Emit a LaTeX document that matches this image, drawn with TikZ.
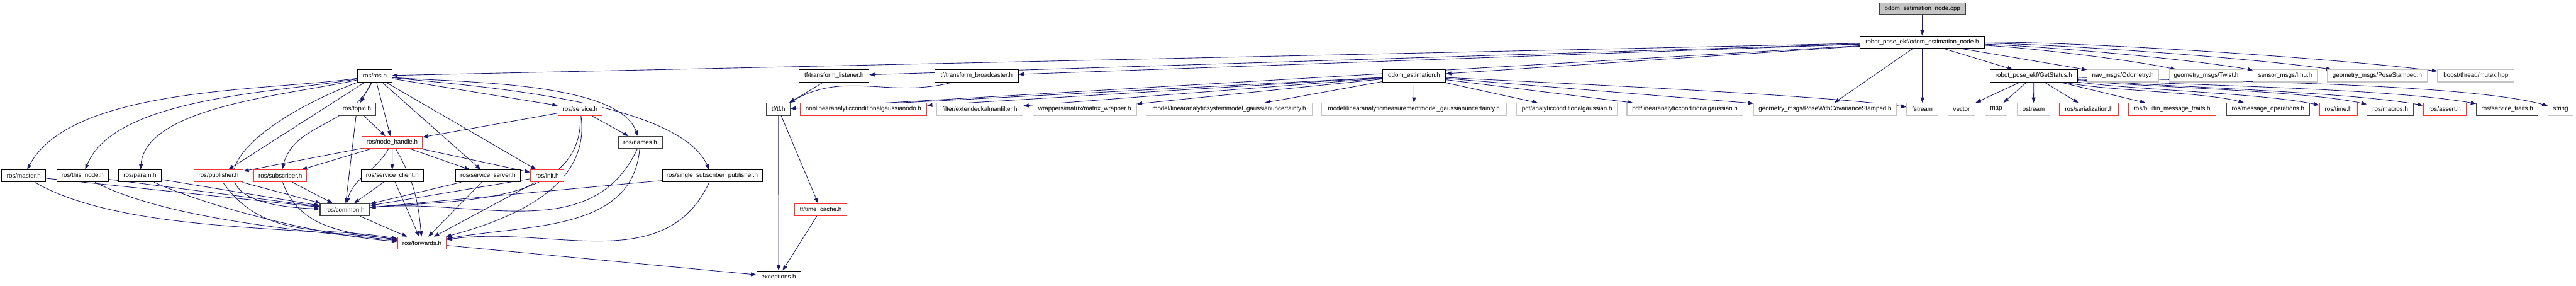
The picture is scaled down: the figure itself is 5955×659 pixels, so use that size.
\documentclass[tikz,border=0pt]{standalone}
\usepackage{fontspec}
\setmainfont{Liberation Sans}
\usepackage{xcolor}
\usepackage{tikz}
\usetikzlibrary{arrows.meta, backgrounds}
\definecolor{edgeblue}{RGB}{25,25,112}
\definecolor{nodered}{RGB}{250,50,50}
\definecolor{nodegray}{RGB}{196,196,196}

\begin{document}
\begin{tikzpicture}[
    x=0.125pt, y=-0.125pt,
    base/.style={rectangle, fill=white, minimum height=3.5pt, inner sep=0pt, font=\fontsize{1.78}{2.1}\selectfont},
    wd/.style={minimum width=#1*0.125pt},
    hnode/.style={base, draw=black, line width=0.15pt},
    dnode/.style={base, draw=black!75, line width=0.23pt},
    rnode/.style={base, draw=nodered, line width=0.2pt},
    gnode/.style={base, draw=nodegray, line width=0.2pt},
    rootnode/.style={base, draw=black!75, fill=nodegray, line width=0.2pt},
    arr/.style={-{Triangle[length=1.55pt,width=1.1pt]}, draw=edgeblue, line width=0.16pt}
]
\useasboundingbox (0,0) rectangle (5955,659);

\node[rootnode, wd=200] (cpp) at (4444,20) {odom\_estimation\_node.cpp};
\node[hnode, wd=287] (nodeh) at (4443.5,97) {robot\_pose\_ekf/odom\_estimation\_node.h};

\node[hnode, wd=79] (ros) at (866.5,175) {ros/ros.h};
\node[hnode, wd=162] (tflis) at (1928,175) {tf/transform\_listener.h};
\node[hnode, wd=193] (tfbc) at (2257.5,175) {tf/transform\_broadcaster.h};
\node[hnode, wd=146] (oest) at (3269,175) {odom\_estimation.h};
\node[hnode, wd=201] (gst) at (4701.5,175) {robot\_pose\_ekf/GetStatus.h};
\node[gnode, wd=165] (odo) at (4907.5,175) {nav\_msgs/Odometry.h};
\node[gnode, wd=170] (twist) at (5100,175) {geometry\_msgs/Twist.h};
\node[gnode, wd=147] (imu) at (5282.5,175) {sensor\_msgs/Imu.h};
\node[gnode, wd=231] (pst) at (5495.5,175) {geometry\_msgs/PoseStamped.h};
\node[gnode, wd=177] (mutex) at (5723.5,175) {boost/thread/mutex.hpp};

\node[dnode, wd=88] (topic) at (825,252) {ros/topic.h};
\node[rnode, wd=102] (service) at (1341,252) {ros/service.h};
\node[dnode, wd=55] (tf) at (1799.5,252) {tf/tf.h};
\node[rnode, wd=292] (nonlin) at (1996,252) {nonlinearanalyticconditionalgaussianodo.h};
\node[gnode, wd=200] (ekf) at (2265,252) {filter/extendedkalmanfilter.h};
\node[gnode, wd=239] (matw) at (2507.5,252) {wrappers/matrix/matrix\_wrapper.h};
\node[gnode, wd=383] (sysm) at (2841.5,252) {model/linearanalyticsystemmodel\_gaussianuncertainty.h};
\node[gnode, wd=427] (measm) at (3268.5,252) {model/linearanalyticmeasurementmodel\_gaussianuncertainty.h};
\node[gnode, wd=233] (acg) at (3622.5,252) {pdf/analyticconditionalgaussian.h};
\node[gnode, wd=268] (lacg) at (3895,252) {pdf/linearanalyticconditionalgaussian.h};
\node[gnode, wd=330] (pwcs) at (4219,252) {geometry\_msgs/PoseWithCovarianceStamped.h};
\node[gnode, wd=72] (fstream) at (4444,252) {fstream};
\node[gnode, wd=63] (vector) at (4534.5,252) {vector};
\node[gnode, wd=51] (map) at (4614.5,252) {map};
\node[gnode, wd=76] (ostream) at (4701,252) {ostream};
\node[rnode, wd=136] (ser) at (4829,252) {ros/serialization.h};
\node[rnode, wd=202] (bmt) at (5021,252) {ros/builtin\_message\_traits.h};
\node[dnode, wd=192] (mops) at (5243,252) {ros/message\_operations.h};
\node[rnode, wd=87] (time) at (5405.5,252) {ros/time.h};
\node[dnode, wd=107] (macros) at (5525.5,252) {ros/macros.h};
\node[rnode, wd=99] (assert) at (5651.5,252) {ros/assert.h};
\node[dnode, wd=142] (svtr) at (5796,252) {ros/service\_traits.h};
\node[gnode, wd=59] (string) at (5919.5,252) {string};

\node[rnode, wd=139] (nh) at (906.5,329) {ros/node\_handle.h};
\node[dnode, wd=102] (names) at (1480,329) {ros/names.h};

\node[hnode, wd=102] (master) at (55,406) {ros/master.h};
\node[hnode, wd=120] (thisnode) at (191,406) {ros/this\_node.h};
\node[hnode, wd=99] (param) at (323.5,406) {ros/param.h};
\node[rnode, wd=114] (pub) at (505,406) {ros/publisher.h};
\node[rnode, wd=122] (sub) at (648,406) {ros/subscriber.h};
\node[hnode, wd=144] (sclient) at (907,406) {ros/service\_client.h};
\node[hnode, wd=149] (sserver) at (1128,406) {ros/service\_server.h};
\node[rnode, wd=78] (init) at (1265,406) {ros/init.h};
\node[hnode, wd=231] (ssp) at (1646.5,406) {ros/single\_subscriber\_publisher.h};

\node[dnode, wd=115] (common) at (797.5,484) {ros/common.h};
\node[rnode, wd=121] (tcache) at (1897.5,484) {tf/time\_cache.h};
\node[rnode, wd=113] (fwd) at (975.5,561) {ros/forwards.h};
\node[hnode, wd=102] (exc) at (1800,639) {exceptions.h};

\begin{scope}[on background layer]
\draw[arr] (cpp) -- (nodeh);

\draw[arr] (nodeh) -- (ros);
\draw[arr] (nodeh) -- (tflis);
\draw[arr] (nodeh) -- (tfbc);
\draw[arr] (nodeh) -- (tf);
\draw[arr] (nodeh) -- (oest);
\draw[arr] (nodeh) -- (gst);
\draw[arr] (nodeh) -- (odo);
\draw[arr] (nodeh) to[out=-3,in=168,looseness=0.6] (twist);
\draw[arr] (nodeh) to[out=-2,in=170,looseness=0.6] (imu);
\draw[arr] (nodeh) to[out=-1,in=172,looseness=0.6] (pst);
\draw[arr] (nodeh) to[out=0,in=173,looseness=0.6] (mutex);
\draw[arr] (nodeh) -- (pwcs);
\draw[arr] (nodeh) -- (fstream);

\draw[arr] (oest) -- (tf);
\draw[arr] (oest) -- (nonlin);
\draw[arr] (oest) -- (ekf);
\draw[arr] (oest) -- (matw);
\draw[arr] (oest) -- (sysm);
\draw[arr] (oest) -- (measm);
\draw[arr] (oest) -- (acg);
\draw[arr] (oest) -- (lacg);
\draw[arr] (oest) -- (pwcs);
\draw[arr] (oest) to[out=-3,in=172,looseness=0.5] (fstream);

\draw[arr] (tflis) -- (tf);
\draw[arr] (tfbc) to[out=195,in=30] (tf);
\draw[arr] (tf) -- (exc);
\draw[arr] (tf) -- (tcache);
\draw[arr] (tcache) -- (exc);

\draw[arr] (gst) -- (vector);
\draw[arr] (gst) -- (map);
\draw[arr] (gst) -- (ostream);
\draw[arr] (gst) -- (ser);
\draw[arr] (gst) -- (bmt);
\draw[arr] (gst) to[out=-12,in=165,looseness=0.6] (mops);
\draw[arr] (gst) to[out=-8,in=168,looseness=0.6] (time);
\draw[arr] (gst) to[out=-6,in=168,looseness=0.6] (macros);
\draw[arr] (gst) to[out=-5,in=170,looseness=0.6] (assert);
\draw[arr] (gst) to[out=-4,in=170,looseness=0.6] (svtr);
\draw[arr] (gst) to[out=-2,in=165,looseness=0.5] (string);

\draw[arr] (ros) to[out=188,in=62,looseness=0.7] (master);
\draw[arr] (ros) to[out=190,in=68,looseness=0.7] (thisnode);
\draw[arr] (ros) to[out=193,in=85,looseness=0.7] (param);
\draw[arr] (ros) .. controls (560,290) and (390,470) .. (common);
\draw[arr] (ros) -- (pub);
\draw[arr] (ros) to[out=245,in=75] (sub);
\draw[arr] (ros) -- (topic);
\draw[arr] (ros) -- (nh);
\draw[arr] (ros) -- (sserver);
\draw[arr] (ros) -- (init);
\draw[arr] (ros) -- (service);
\draw[arr] (ros) to[out=-5,in=110,looseness=0.6] (names);
\draw[arr] (ros) to[out=-6,in=115,looseness=0.6] (ssp);

\draw[arr] (topic) -- (nh);
\draw[arr] (topic) -- (common);

\draw[arr] (nh) -- (pub);
\draw[arr] (nh) -- (sub);
\draw[arr] (nh) -- (sclient);
\draw[arr] (nh) -- (sserver);
\draw[arr] (nh) -- (init);
\draw[arr] (nh) to[out=-120,in=75] (common);
\draw[arr] (nh) to[out=-60,in=95] (fwd);

\draw[arr] (service) -- (nh);
\draw[arr] (service) -- (names);
\draw[arr] (service) to[out=-88,in=5] (common);
\draw[arr] (service) to[out=-82,in=15] (fwd);

\draw[arr] (names) to[out=-115,in=5] (common);
\draw[arr] (names) to[out=-95,in=10] (fwd);

\draw[arr] (ssp) -- (common);
\draw[arr] (ssp) to[out=-115,in=8] (fwd);
\draw[arr] (init) -- (common);
\draw[arr] (init) -- (fwd);
\draw[arr] (sserver) -- (common);
\draw[arr] (sserver) -- (fwd);
\draw[arr] (sclient) -- (common);
\draw[arr] (sclient) -- (fwd);
\draw[arr] (pub) -- (common);
\draw[arr] (pub) to[out=-55,in=170] (fwd);
\draw[arr] (sub) -- (common);
\draw[arr] (sub) to[out=-70,in=172] (fwd);
\draw[arr] (master) -- (common);
\draw[arr] (master) to[out=-30,in=172,looseness=0.7] (fwd);
\draw[arr] (thisnode) -- (common);
\draw[arr] (thisnode) to[out=-27,in=174,looseness=0.7] (fwd);
\draw[arr] (param) -- (common);
\draw[arr] (param) to[out=-24,in=176,looseness=0.7] (fwd);

\draw[arr] (common) -- (fwd);
\draw[arr] (fwd) -- (exc);
\end{scope}

\end{tikzpicture}
\end{document}
